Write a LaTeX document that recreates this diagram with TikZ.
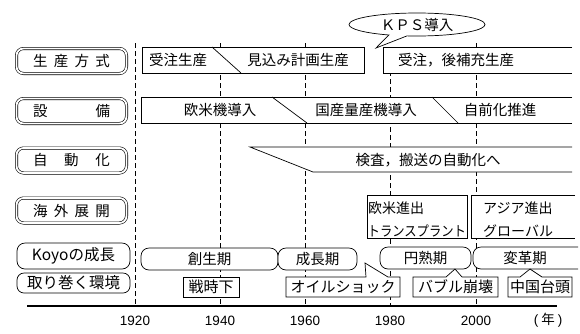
\documentclass[tikz,border=0pt]{standalone}
\usepackage{fontspec}
\usepackage{graphicx}
\setmainfont{Liberation Sans}
\newfontfamily\jpfont{Noto Sans CJK JP}
\usetikzlibrary{shapes.callouts,shapes.geometric}
\newcommand\jpA{\jpfont\fontsize{14.5}{17}\selectfont}
\newcommand\jpB{\jpfont\fontsize{14}{16}\selectfont}
\newcommand\jpC{\jpfont\fontsize{15}{17}\selectfont}
\tikzset{
  lbl/.style={draw, double, double distance=1.8pt, line width=0.6pt, rounded corners=7pt,
    minimum width=110pt, minimum height=25pt, inner sep=0pt, font=\jpA},
  rbox/.style={draw, line width=0.7pt, rounded corners=8pt, inner sep=0pt},
  band/.style={draw, line width=0.7pt, fill=white},
  t/.style={inner sep=0pt, font=\jpA},
  tb/.style={inner sep=0pt, font=\jpB},
  ev/.style={inner sep=0pt, font=\jpC},
  yr/.style={inner sep=0pt, font=\fontsize{13.5}{16}\selectfont},
  grid/.style={line width=0.7pt, dash pattern=on 5pt off 3pt}
}
\begin{document}
\begin{tikzpicture}[x=1pt,y=-1pt]
\useasboundingbox (0,0) rectangle (580,333);
% year guide lines
\coordinate (g1t) at (135,43); \coordinate (g1b) at (135,306);
\coordinate (g2t) at (220,43); \coordinate (g2b) at (220,306);
\coordinate (g3t) at (305,43); \coordinate (g3b) at (305,306);
\coordinate (g4t) at (390,47); \coordinate (g4b) at (390,306);
\coordinate (g5t) at (476,43); \coordinate (g5b) at (476,306);
\foreach \i in {1,...,5} {\draw[grid] (g\i t) -- (g\i b);}
% axis
\coordinate (axl) at (27,306); \coordinate (axr) at (557,306);
\draw[line width=1.4pt] (axl) -- (axr);
\node[yr] (y1) at (135,320.5) {1920};
\node[yr] (y2) at (220,320.5) {1940};
\node[yr] (y3) at (305,320.5) {1960};
\node[yr] (y4) at (390,320.5) {1980};
\node[yr] (y5) at (476,320.5) {2000};
\node[yr] (yn) at (548,320.5) {(\hspace{3pt}{\jpfont 年}\hspace{3pt})};
% row labels
\node[lbl] (L1) at (71.5,61) {\makebox[77pt]{生\hfill 産\hfill 方\hfill 式}};
\node[lbl] (L2) at (71.5,111) {\makebox[77pt]{設\hfill 備}};
\node[lbl] (L3) at (71.5,160.5) {\makebox[77pt]{自\hfill 動\hfill 化}};
\node[lbl] (L4) at (71.5,210.5) {\makebox[77pt]{海\hfill 外\hfill 展\hfill 開}};
\node[rbox, minimum width=113pt, minimum height=26pt, font=\jpfont\fontsize{15.5}{17}\selectfont] (L5) at (73.5,256) {Koyoの成長};
\node[rbox, rounded corners=7pt, minimum width=113pt, minimum height=20pt, font=\jpfont\fontsize{15.5}{17}\selectfont] (L6) at (73.5,283) {取り巻く環境};
% row 1
\draw[band] (142,47) rectangle (364,73);
\draw[line width=0.7pt] (212,47) -- (241,73);
\node[t] (a1) at (178,60) {受注生産};
\node[t] (a2) at (298,60) {見込み計画生産};
\path[band] (572,47) -- (383,47) -- (383,73) -- (572,73);
\node[t] (a3) at (456,60) {受注，後補充生産};
\node[ellipse callout, draw, line width=0.7pt, fill=white, minimum width=136pt, minimum height=23pt,
  inner sep=0pt, callout absolute pointer={(376,48)}, callout pointer arc=16, font=\jpA] (kps) at (417,24.5) {ＫＰＳ導入};
% row 2
\path[band] (572,97) -- (141,97) -- (141,123) -- (572,123);
\draw[line width=0.7pt] (272,97) -- (307,123);
\draw[line width=0.7pt] (432,97) -- (458,123);
\node[t] (b1) at (220,110) {欧米機導入};
\node[t] (b2) at (366,110) {国産量産機導入};
\node[t] (b3) at (500,110) {自前化推進};
% row 3
\path[band] (572,147) -- (250,147) -- (313,172) -- (572,172);
\node[t] (c1) at (428,160) {検査，搬送の自動化へ};
% row 4
\draw[band] (367,195) rectangle (467,238);
\node[tb, anchor=west] (d1) at (368,208) {欧米進出};
\node[tb, anchor=west] (d2) at (367.5,231) {\scalebox{0.88}[1]{トランスプラント}};
\path[band] (575,195) -- (471,195) -- (471,238) -- (575,238);
\node[tb, anchor=west] (d3) at (483,208) {アジア進出};
\node[tb, anchor=west] (d4) at (483,231) {グローバル};
% row 5
\node[rbox, fill=white, minimum width=137pt, minimum height=22pt, font=\jpA] (e1) at (209.5,259) {創生期};
\node[rbox, fill=white, minimum width=79pt, minimum height=22pt, font=\jpA] (e2) at (317.5,259) {成長期};
\node[rbox, fill=white, minimum width=91pt, minimum height=22pt, font=\jpA] (e3) at (425.5,258) {円熟期};
\draw[line width=0.7pt, fill=white, rounded corners=8pt] (578,247) -- (473,247) -- (473,269) -- (578,269);
\node[t] (e4) at (525,258) {変革期};
% row 6 events
\draw[band] (183,277) rectangle (239,297);
\node[ev] (f1) at (211,287) {戦時下};
\draw[band] (286,277) -- (366,277) -- (365,263) -- (388,277) -- (400,277) -- (400,297) -- (286,297) -- cycle;
\node[ev] (f2) at (343,287) {オイルショック};
\draw[band] (413,277) -- (446,277) -- (455,269) -- (462,277) -- (498,277) -- (498,297) -- (413,297) -- cycle;
\node[ev] (f3) at (455.5,287) {バブル崩壊};
\draw[band] (508,277) -- (520,277) -- (530,269) -- (542,277) -- (572,277) -- (572,297) -- (508,297) -- cycle;
\node[ev] (f4) at (540,287) {中国台頭};
\end{tikzpicture}
\end{document}
